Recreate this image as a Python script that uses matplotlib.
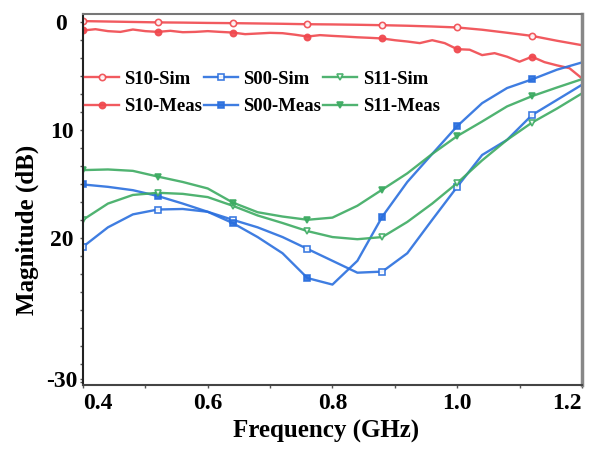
import matplotlib
matplotlib.use("Agg")
import matplotlib.pyplot as plt
from matplotlib.ticker import MultipleLocator

# frequency grids (GHz)
freq = [0.40, 0.44, 0.48, 0.52, 0.56, 0.60, 0.64, 0.68, 0.72, 0.76, 0.80,
        0.84, 0.88, 0.92, 0.96, 1.00, 1.04, 1.08, 1.12, 1.16, 1.20]
freq_fine = [round(0.40 + 0.02 * i, 2) for i in range(41)]

# magnitudes (dB, plotted downward)
s10_sim = [-0.10, -0.06, -0.02, 0.02, 0.04, 0.07, 0.09, 0.12, 0.15, 0.19, 0.21,
           0.24, 0.28, 0.33, 0.40, 0.49, 0.70, 0.98, 1.27, 1.72, 2.13]
s10_meas = [0.77, 0.65, 0.83, 0.90, 0.68, 0.83, 0.90, 0.80, 0.93, 0.90, 0.83,
            0.90, 0.96, 1.11, 1.05, 0.99, 1.02, 1.16, 1.33, 1.20, 1.27,
            1.33, 1.40, 1.45, 1.51, 1.67, 1.79, 1.94, 1.67, 1.94, 2.50,
            2.55, 3.05, 2.87, 3.20, 3.66, 3.20, 3.70, 4.00, 4.26, 5.20]
s00_sim = [20.8, 19.0, 17.8, 17.35, 17.3, 17.56, 18.3, 19.0, 19.9, 21.0, 22.1,
           23.2, 23.1, 21.4, 18.3, 15.25, 12.3, 10.9, 8.6, 7.2, 5.8]
s00_meas = [15.03, 15.25, 15.56, 16.1, 16.8, 17.56, 18.6, 19.9, 21.4, 23.7, 24.3,
            22.1, 18.0, 14.8, 12.2, 9.63, 7.5, 6.1, 5.3, 4.4, 3.73]
s11_sim = [18.3, 16.8, 16.0, 15.8, 15.9, 16.2, 17.0, 17.9, 18.6, 19.35, 19.9,
           20.1, 19.9, 18.5, 16.8, 14.9, 12.8, 10.9, 9.3, 8.0, 6.6]
s11_meas = [13.7, 13.64, 13.77, 14.3, 14.8, 15.4, 16.7, 17.6, 18.0, 18.3, 18.1,
            17.0, 15.5, 14.0, 12.2, 10.55, 9.2, 7.8, 6.85, 6.05, 5.28]

marker_freqs = [0.40, 0.52, 0.64, 0.76, 0.88, 1.00, 1.12]
xticks = [0.4, 0.6, 0.8, 1.0, 1.2]
xtick_labels = ["0.4", "0.6", "0.8", "1.0", "1.2"]
yticks = [0, 10, 20, 33.0]
ytick_labels = ["0", "10", "20", "-30"]

RED = "#f0484e"
BLUE = "#2a6fde"
GREEN = "#3dab62"


def mark_idx(xs):
    return [i for i, f in enumerate(xs) if any(abs(f - m) < 1e-6 for m in marker_freqs)]


plt.rcParams["font.family"] = ["Liberation Serif", "DejaVu Serif"]
plt.rcParams["font.weight"] = "bold"

fig = plt.figure(figsize=(6.04, 4.54), dpi=100)
ax = fig.add_axes([0.1374, 0.152, 0.826, 0.817])

series = [
    ("S10-Sim", freq, s10_sim, RED, "o", True),
    ("S10-Meas", freq_fine, s10_meas, RED, "o", False),
    ("S00-Sim", freq, s00_sim, BLUE, "s", True),
    ("S00-Meas", freq, s00_meas, BLUE, "s", False),
    ("S11-Sim", freq, s11_sim, GREEN, "v", True),
    ("S11-Meas", freq, s11_meas, GREEN, "v", False),
]
for label, xs, ys, color, mk, hollow in series:
    ax.plot(xs, ys, color=color, lw=1.7, marker=mk, markersize=4.5,
            markevery=mark_idx(xs), markerfacecolor="white" if hollow else color,
            markeredgecolor=color, markeredgewidth=1.2, label=label, alpha=0.9)

ax.set_xlim(0.4, 1.2)
ax.set_ylim(33.6, -0.75)
ax.set_xticks(xticks)
ax.set_xticklabels(xtick_labels)
ax.xaxis.set_minor_locator(MultipleLocator(0.1))
ax.set_yticks(yticks)
ax.set_yticklabels(ytick_labels)
ax.yaxis.set_minor_locator(MultipleLocator(10 / 6))
ax.tick_params(axis="both", which="both", direction="out", length=2.5,
               width=1, color="#555555", labelsize=17)
ax.tick_params(axis="x", pad=3)
ax.tick_params(axis="y", pad=13)
for t in ax.get_yticklabels():
    t.set_horizontalalignment("center")
xl = ax.get_xticklabels()
xl[0].set_horizontalalignment("left")
xl[-1].set_horizontalalignment("right")

ax.set_xlabel("Frequency (GHz)", fontsize=18, fontweight="bold")
ax.set_ylabel("Magnitude (dB)", fontsize=18, fontweight="bold")
ax.xaxis.set_label_coords(0.487, -0.094)
ax.yaxis.set_label_coords(-0.088, 0.418)

ax.spines["left"].set_color("#222222")
ax.spines["left"].set_linewidth(1.5)
ax.spines["bottom"].set_color("#444444")
ax.spines["bottom"].set_linewidth(1.5)
ax.spines["top"].set_color("#777777")
ax.spines["top"].set_linewidth(1.5)
ax.spines["right"].set_color("#888888")
ax.spines["right"].set_linewidth(2.5)

leg = ax.legend(loc="upper left", bbox_to_anchor=(0.0, 0.852), ncol=3,
                frameon=False, handlelength=1.8, handletextpad=0.3,
                columnspacing=0.1, labelspacing=0.55, borderpad=0.1,
                borderaxespad=0.0, prop={"weight": "bold", "size": 13.5})

fig.savefig("out.png", dpi=100)
